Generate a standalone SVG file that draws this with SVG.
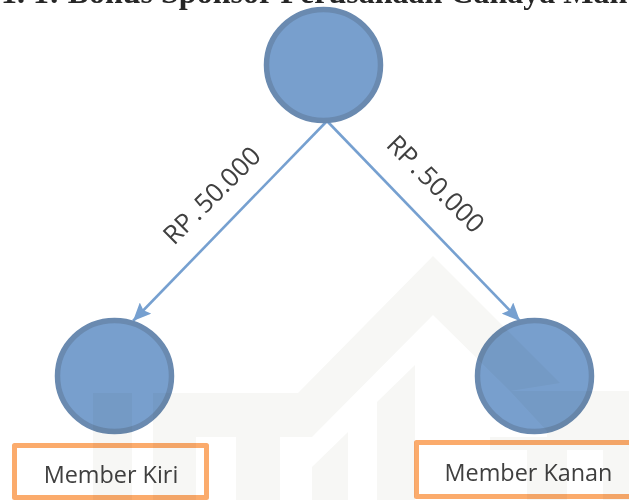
<svg xmlns="http://www.w3.org/2000/svg" width="629" height="500" viewBox="0 0 629 500">
<defs>
<style>
.wm{fill:#f7f7f5}
#watermark{mix-blend-mode:multiply}
.node{fill:#789fcd;stroke:#6a8ab0;stroke-width:5.500}
.box{fill:#fff;stroke:#fbab6c;stroke-width:5;stroke-linejoin:round}
.t{font-family:"Open Sans","Noto Sans",sans-serif;fill:#404040}
.m{font-size:23.400px}
.r{font-size:26px;word-spacing:-4px}
.c{fill:none;stroke:#76a0d0;stroke-width:2.600}
.h{font-family:"Liberation Serif",serif;font-weight:bold;font-size:32px;fill:#262626}
</style>
<marker id="a" markerUnits="userSpaceOnUse" markerWidth="20" markerHeight="16" refX="18" refY="8" orient="auto"><path d="M0 0L18 8L0 16L3 8Z" fill="#76a0d0"/></marker>
</defs>
<rect width="629" height="500" fill="#fff"/>
<text class="h" x="1" y="3">1. 1: Bonus Sponsor Perusahaan Cahaya Man</text>
<g id="connectors">
<path class="c" d="M327 121L133 321" marker-end="url(#a)"/>
<path class="c" d="M327 121L520 321" marker-end="url(#a)"/>
</g>
<g id="node-top"><ellipse class="node" cx="323.500" cy="65" rx="57" ry="55.500"/></g>
<g id="node-left"><ellipse class="node" cx="114.500" cy="376" rx="57" ry="55.500"/></g>
<g id="node-right"><ellipse class="node" cx="534.500" cy="376" rx="57" ry="55.500"/></g>
<g id="label-left"><rect class="box" x="14.500" y="445.500" width="192" height="52"/><text class="t m" x="111" y="482.500" text-anchor="middle">Member Kiri</text></g>
<g id="label-right"><rect class="box" x="416.500" y="442.500" width="220" height="54"/><text class="t m" x="528.500" y="481" text-anchor="middle">Member Kanan</text></g>
<g id="edge-labels">
<text class="t r" transform="translate(174 246) rotate(-45)">RP . 50.000</text>
<text class="t r" transform="translate(385 146) rotate(45)">RP . 50.000</text>
</g>
<g id="watermark">
<path class="wm" d="M93 393H132V500H93Z"/>
<path class="wm" d="M153 393H298L433 256L560 383L510 391L433 315L312 437H280V500H236V437H196V500H153Z"/>
<path class="wm" d="M312 467L348 432V500H312Z"/>
<path class="wm" d="M377 402L415 365V500H377Z"/>
<path class="wm" d="M510 391H629V500H603V450H567V500H527V450H490V437H547V431Z"/>
</g>
</svg>
